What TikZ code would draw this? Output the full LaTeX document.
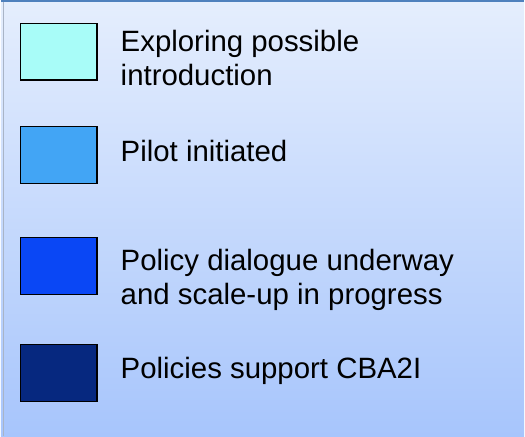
\documentclass[tikz,border=0pt]{standalone}
\usepackage{fontspec}
\setmainfont{Liberation Sans}
\usepackage{tikz}
\usetikzlibrary{positioning}
\definecolor{legendtop}{HTML}{E5EEFD}
\definecolor{legendbot}{HTML}{A7C5FC}
\definecolor{legendrule}{HTML}{4F81BD}
\definecolor{legendside}{HTML}{A9B4C6}
\definecolor{stageA}{HTML}{A8FCF8}
\definecolor{stageB}{HTML}{42A5F5}
\definecolor{stageC}{HTML}{0A47F5}
\definecolor{stageD}{HTML}{06287F}
\begin{document}
\begin{tikzpicture}[x=1pt,y=-1pt,
  swatch/.style={draw=black,line width=1.6pt,minimum width=77pt,minimum height=57pt,inner sep=0pt},
  entry/.style={font=\fontsize{29.5}{33.7}\selectfont,align=left,anchor=base west,inner sep=0pt}]
  % panel -- vertical shade, blue rule on top
  \shade[top color=legendtop,bottom color=legendbot] (0,0) rectangle (525,438);
  \draw[legendside,line width=1pt] (3,2) -- (3,438);
  \draw[legendrule,line width=2pt] (0,1) -- (525,1);
  % swatches and their labels (base = last line)
  \foreach \y/\base/\name/\col/\txt in {52/85.7/explore/stageA/{Exploring possible\\introduction},
                                        155.5/162/pilot/stageB/Pilot initiated,
                                        267/305.7/dialogue/stageC/{Policy dialogue underway\\and scale-up in progress},
                                        374.5/380/support/stageD/Policies support CBA2I}{
    \node[swatch,fill=\col] (\name) at (58,\y) {};
    \node[entry] (\name-txt) at (120,\base) {\txt};}
\end{tikzpicture}
\end{document}
